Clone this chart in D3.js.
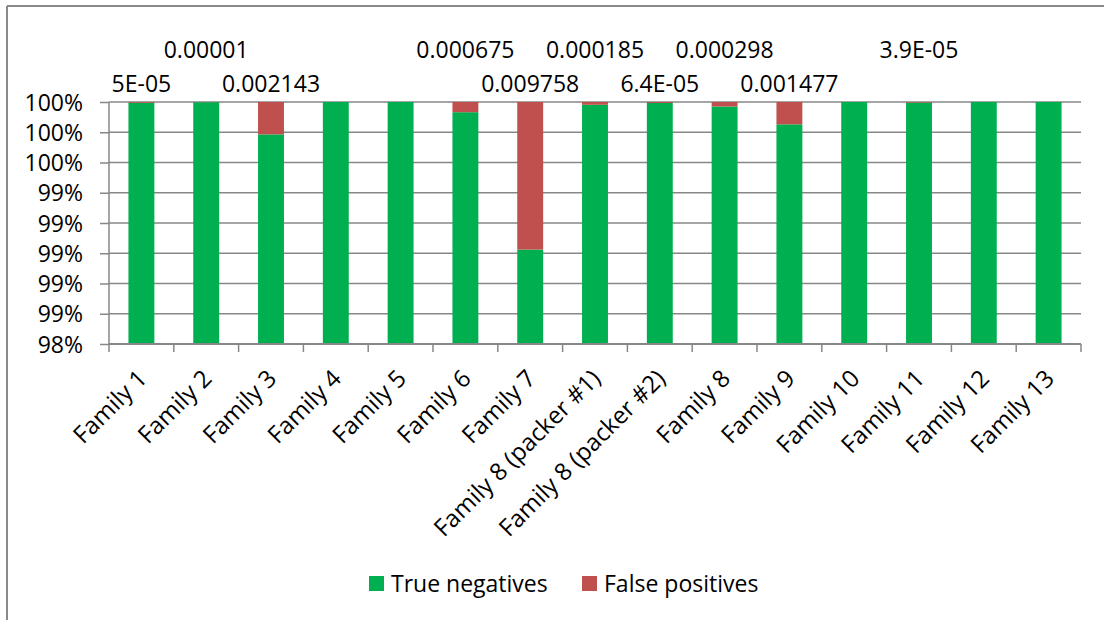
<!DOCTYPE html>
<html>
<head>
<meta charset="utf-8">
<script src="https://cdn.jsdelivr.net/npm/d3@7"></script>
<style>
  html, body { margin: 0; padding: 0; background: #fff; }
  svg text { font-family: "Open Sans", "Liberation Sans", sans-serif; fill: #000; }
</style>
</head>
<body>
<div id="chart"></div>
<script>
// categories and false positive rates (true negatives = 1 - fp)
var families = ["Family 1", "Family 2", "Family 3", "Family 4", "Family 5", "Family 6", "Family 7",
  "Family 8 (packer #1)", "Family 8 (packer #2)", "Family 8", "Family 9", "Family 10",
  "Family 11", "Family 12", "Family 13"];
var falsePositives = [0.00005, 0.00001, 0.002143, 0, 0, 0.000675, 0.009758,
  0.000185, 0.000064, 0.000298, 0.001477, 0, 0.000039, 0, 0];
var fpLabels = ["5E-05", "0.00001", "0.002143", "", "", "0.000675", "0.009758",
  "0.000185", "6.4E-05", "0.000298", "0.001477", "", "3.9E-05", "", ""];
var yTicks = [0.984, 0.986, 0.988, 0.99, 0.992, 0.994, 0.996, 0.998, 1];
var seriesNames = ["True negatives", "False positives"];

var palette = {
  green: "#00b050",
  red: "#c0504d",
  axis: "#878787"
};

var fontSize = "23px";
var width = 1104, height = 620;
var margin = {top: 102, left: 109, right: 23, bottom: 276};

var svg = d3.select("#chart").append("svg")
    .attr("width", width)
    .attr("height", height);

// outer frame (only left and top visible, chart is cropped)
svg.append("line").attr("x1", 7).attr("y1", 6).attr("x2", 7).attr("y2", height)
    .attr("stroke", "#898989").attr("stroke-width", 2);
svg.append("line").attr("x1", 7).attr("y1", 6).attr("x2", width).attr("y2", 6)
    .attr("stroke", "#898989").attr("stroke-width", 2);

var x = d3.scaleBand()
    .domain(families)
    .range([margin.left, width - margin.right])
    .paddingInner(0.6)
    .paddingOuter(0.3);

var y = d3.scaleLinear()
    .domain([0.984, 1])
    .range([height - margin.bottom, margin.top]);

var step = x.step();

// gridlines
svg.append("g")
  .selectAll("line")
  .data(yTicks.slice(1))
  .enter().append("line")
    .attr("x1", margin.left)
    .attr("x2", width - margin.right)
    .attr("y1", function(d) { return y(d); })
    .attr("y2", function(d) { return y(d); })
    .attr("stroke", palette.axis)
    .attr("stroke-width", 1.5);

// y axis
var yAxis = svg.append("g")
    .attr("transform", "translate(" + margin.left + ",0)")
    .call(d3.axisLeft(y).tickValues(yTicks).tickFormat(d3.format(".0%")).tickSize(9).tickPadding(17));
yAxis.selectAll("line, path").attr("stroke", palette.axis).attr("stroke-width", 1.5);
yAxis.select(".domain").attr("d", "M0," + y(0.984) + "V" + y(1));
yAxis.selectAll("text").attr("font-size", fontSize).attr("font-family", "Open Sans").attr("fill", "#000")
    .attr("dy", "0.35em");

// bars
var bars = svg.append("g")
  .selectAll("g")
  .data(families)
  .enter().append("g");

bars.append("rect")
    .attr("x", function(d) { return x(d); })
    .attr("width", x.bandwidth())
    .attr("y", function(d, i) { return y(1 - falsePositives[i]); })
    .attr("height", function(d, i) { return y(0.984) - y(1 - falsePositives[i]); })
    .attr("fill", palette.green);

bars.append("rect")
    .attr("x", function(d) { return x(d); })
    .attr("width", x.bandwidth())
    .attr("y", y(1))
    .attr("height", function(d, i) { return y(1 - falsePositives[i]) - y(1); })
    .attr("fill", palette.red);

// x axis: ticks sit between categories
var xAxis = svg.append("g");
xAxis.append("line")
    .attr("x1", margin.left).attr("x2", width - margin.right)
    .attr("y1", y(0.984)).attr("y2", y(0.984))
    .attr("stroke", palette.axis).attr("stroke-width", 2);
xAxis.selectAll("line.tick")
  .data(d3.range(families.length + 1))
  .enter().append("line")
    .attr("class", "tick")
    .attr("x1", function(i) { return margin.left + i * step; })
    .attr("x2", function(i) { return margin.left + i * step; })
    .attr("y1", y(0.984))
    .attr("y2", y(0.984) + 8)
    .attr("stroke", palette.axis)
    .attr("stroke-width", 1.5);

xAxis.selectAll("text")
  .data(families)
  .enter().append("text")
    .attr("transform", function(d) {
      return "translate(" + (x(d) + x.bandwidth() / 2 + 7) + "," + (y(0.984) + 36) + ") rotate(-45)";
    })
    .attr("text-anchor", "end")
    .attr("font-size", "24px")
    .text(function(d) { return d; });

// data labels for false positives, staggered on two rows
var labelled = [];
fpLabels.forEach(function(t, i) { if (t) labelled.push(i); });
svg.append("g")
  .selectAll("text")
  .data(labelled)
  .enter().append("text")
    .attr("x", function(i) { return x(families[i]) + x.bandwidth() / 2; })
    .attr("y", function(i, k) { return k % 2 === 0 ? 92 : 58; })
    .attr("text-anchor", "middle")
    .attr("font-size", fontSize)
    .text(function(i) { return fpLabels[i]; });

// legend
var legend = svg.append("g")
  .selectAll("g")
  .data(seriesNames)
  .enter().append("g")
    .attr("transform", function(d, i) { return "translate(" + (369 + i * 213) + ",576)"; });
legend.append("rect")
    .attr("width", 15).attr("height", 15)
    .attr("fill", function(d, i) { return i === 0 ? palette.green : palette.red; });
legend.append("text")
    .attr("x", 22).attr("y", 16)
    .attr("font-size", fontSize)
    .text(function(d) { return d; });
</script>
</body>
</html>
